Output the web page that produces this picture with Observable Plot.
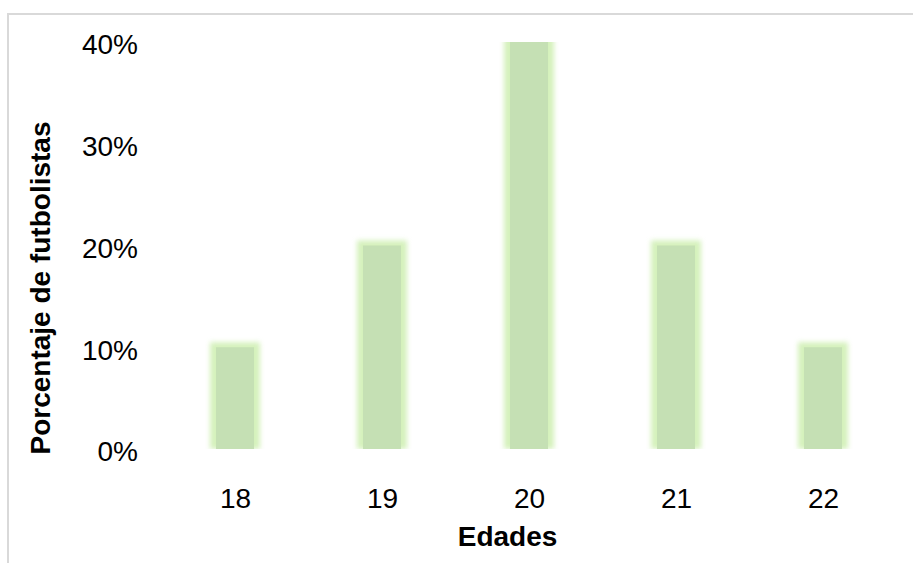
<!DOCTYPE html>
<html>
<head>
<meta charset="utf-8">
<script src="https://cdn.jsdelivr.net/npm/d3@7"></script>
<script src="https://cdn.jsdelivr.net/npm/@observablehq/plot@0.6"></script>
<style>
  html, body { margin: 0; padding: 0; background: #fff; }
  #wrap { position: relative; width: 913px; height: 563px; overflow: hidden; }
  #border {
    position: absolute; left: 7px; top: 13px; width: 1000px; height: 700px;
    border-top: 2px solid #d9d9d9; border-left: 2px solid #d9d9d9;
    box-sizing: border-box; pointer-events: none;
  }
  #chart { position: absolute; left: 0; top: 0; }
</style>
</head>
<body>
<div id="wrap">
  <div id="border"></div>
  <div id="chart"></div>
</div>
<script>
// Distribución de edades de los futbolistas
const edades = ["18", "19", "20", "21", "22"];
const porcentajes = [0.10, 0.20, 0.40, 0.20, 0.10];
const yTicks = [0, 0.1, 0.2, 0.3, 0.4];
const xTitle = "Edades";
const yTitle = "Porcentaje de futbolistas";

const rows = edades.map((e, i) => ({edad: e, pct: porcentajes[i]}));

const font = "'Liberation Sans', Arial, sans-serif";
const fontSize = 28;

const chart = Plot.plot({
  width: 913,
  height: 563,
  marginLeft: 161.5,
  marginRight: 16.5,
  marginTop: 42,
  marginBottom: 114,
  style: {fontFamily: font, fontSize: fontSize + "px", color: "#000", background: "transparent"},
  x: {domain: edades, paddingInner: 0.7415, paddingOuter: 0.37, label: null},
  y: {domain: [0, 0.4], label: null},
  marks: [
    // soft glow around each bar, clipped to the plot area
    Plot.barY(rows, {
      x: "edad", y: "pct", fill: "#b9e88f", fillOpacity: 0.6,
      insetLeft: -6, insetRight: -6, insetTop: -5, clip: true
    }),
    Plot.barY(rows, {x: "edad", y: "pct", fill: "#c5e0b4"}),
    Plot.axisY({
      ticks: yTicks, tickFormat: d3.format(".0%"), tickSize: 0, tickPadding: 24,
      dy: 3, fontSize: fontSize, label: null
    }),
    Plot.axisX({tickSize: 0, tickPadding: 39, fontSize: fontSize, label: null}),
    Plot.text([xTitle], {
      frameAnchor: "bottom", dx: -22, dy: 88, lineAnchor: "middle", textAnchor: "middle",
      fontWeight: "bold", fontSize: fontSize
    }),
    Plot.text([yTitle], {
      frameAnchor: "left", dx: -121, dy: 42, rotate: -90,
      lineAnchor: "middle", textAnchor: "middle",
      fontWeight: "bold", fontSize: fontSize
    })
  ]
});

document.getElementById("chart").appendChild(chart);

// blur the glow layer (first bar group)
const glow = chart.querySelector('g[aria-label="bar"]');
if (glow) glow.style.filter = "blur(2.5px)";
</script>
</body>
</html>
